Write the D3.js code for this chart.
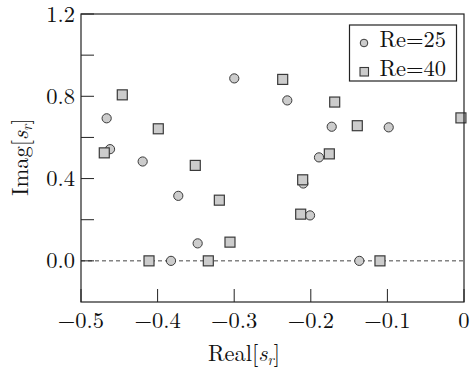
<!DOCTYPE html>
<html>
<head>
<meta charset="utf-8">
<script src="https://cdn.jsdelivr.net/npm/d3@7"></script>
<style>
  html, body { margin: 0; padding: 0; background: #fff; }
  svg { display: block; }
</style>
</head>
<body>
<svg id="chart" width="471" height="373"></svg>
<script>
// Data: Re = 25 (circles)
const re25Real = [-0.4665, -0.4621, -0.4195, -0.373, -0.3477, -0.3825, -0.2999, -0.2307, -0.2098, -0.201, -0.1893, -0.1727, -0.1367, -0.0983];
const re25Imag = [0.693, 0.543, 0.483, 0.316, 0.085, 0.0, 0.887, 0.780, 0.376, 0.221, 0.503, 0.652, 0.0, 0.649];
// Data: Re = 40 (squares)
const re40Real = [-0.4461, -0.3991, -0.4696, -0.3508, -0.3194, -0.3055, -0.4112, -0.3338, -0.2367, -0.1688, -0.1393, -0.2106, -0.2132, -0.1758, -0.1097, -0.004];
const re40Imag = [0.807, 0.642, 0.525, 0.464, 0.295, 0.091, 0.0, 0.0, 0.882, 0.772, 0.657, 0.394, 0.227, 0.520, 0.0, 0.695];

const xTicks = [-0.5, -0.4, -0.3, -0.2, -0.1, 0];
const yTicks = [0.0, 0.2, 0.4, 0.6, 0.8, 1.0, 1.2];
const yTickLabels = [0.0, 0.4, 0.8, 1.2];
const seriesNames = ["Re=25", "Re=40"];

const W = 471, H = 373;
const margin = {left: 81, right: 7, top: 14, bottom: 71};
const FONT = "'Latin Modern Roman', 'DejaVu Serif', serif";
const FS = 22.5;
const svg = d3.select("#chart");

const x = d3.scaleLinear().domain([-0.5, 0]).range([margin.left, W - margin.right]);
const y = d3.scaleLinear().domain([-0.2, 1.2]).range([H - margin.bottom, margin.top]);

const fill = "#cccccc", stroke = "#3a3a3a";

// dashed zero line
svg.append("line")
  .attr("x1", x(-0.5)).attr("x2", x(0))
  .attr("y1", y(0)).attr("y2", y(0))
  .attr("stroke", "#444").attr("stroke-width", 1)
  .attr("stroke-dasharray", "4,3");

// ticks (inward)
const tickLen = 13;
svg.append("g").selectAll("line").data(yTicks).join("line")
  .attr("x1", x(-0.5)).attr("x2", x(-0.5) + tickLen)
  .attr("y1", d => y(d)).attr("y2", d => y(d))
  .attr("stroke", "#222").attr("stroke-width", 1);
svg.append("g").selectAll("line").data(xTicks).join("line")
  .attr("x1", d => x(d)).attr("x2", d => x(d))
  .attr("y1", y(-0.2)).attr("y2", y(-0.2) - tickLen)
  .attr("stroke", "#222").attr("stroke-width", 1);

// tick labels
const fmtY = d3.format(".1f");
svg.append("g").selectAll("text").data(yTickLabels).join("text")
  .attr("x", x(-0.5) - 6).attr("y", d => y(d) + 7.5)
  .attr("text-anchor", "end")
  .attr("font-family", FONT).attr("font-size", FS).attr("fill", "#111")
  .text(d => fmtY(d));
const fmtX = d => d === 0 ? "0" : d3.format(".1f")(d);
svg.append("g").selectAll("text").data(xTicks).join("text")
  .attr("x", d => x(d)).attr("y", 327.5)
  .attr("text-anchor", "middle")
  .attr("font-family", FONT).attr("font-size", FS).attr("fill", "#111")
  .text(d => fmtX(d));

// axis labels
const xl = svg.append("text")
  .attr("x", 244).attr("y", 361)
  .attr("text-anchor", "middle").attr("font-family", FONT).attr("font-size", FS).attr("fill", "#111");
xl.append("tspan").text("Real[");
xl.append("tspan").attr("font-style", "italic").text("s");
xl.append("tspan").attr("font-style", "italic").attr("font-size", 15).attr("dy", 4).text("r");
xl.append("tspan").attr("dy", -4).text("]");

const yl = svg.append("text")
  .attr("transform", `translate(28, ${157}) rotate(-90)`)
  .attr("text-anchor", "middle").attr("font-family", FONT).attr("font-size", FS).attr("fill", "#111");
yl.append("tspan").text("Imag[");
yl.append("tspan").attr("font-style", "italic").text("s");
yl.append("tspan").attr("font-style", "italic").attr("font-size", 15).attr("dy", 4).text("r");
yl.append("tspan").attr("dy", -4).text("]");

// data
const plot = svg.append("g");
const c25 = re25Real.map((v, i) => ({re: v, im: re25Imag[i]}));
const c40 = re40Real.map((v, i) => ({re: v, im: re40Imag[i]}));

plot.append("g").selectAll("circle").data(c25).join("circle")
  .attr("cx", d => x(d.re)).attr("cy", d => y(d.im)).attr("r", 4.6)
  .attr("fill", fill).attr("stroke", stroke).attr("stroke-width", 1);

const sq = 10;
plot.append("g").selectAll("rect").data(c40).join("rect")
  .attr("x", d => x(d.re) - sq / 2).attr("y", d => y(d.im) - sq / 2)
  .attr("width", sq).attr("height", sq)
  .attr("fill", fill).attr("stroke", stroke).attr("stroke-width", 1.2);

// frame
svg.append("rect")
  .attr("x", x(-0.5)).attr("y", y(1.2))
  .attr("width", x(0) - x(-0.5)).attr("height", y(-0.2) - y(1.2))
  .attr("fill", "none").attr("stroke", "#222").attr("stroke-width", 1.2);

// legend
const lg = svg.append("g");
lg.append("rect").attr("x", 349.5).attr("y", 25).attr("width", 107).attr("height", 56)
  .attr("fill", "#fff").attr("stroke", "#222").attr("stroke-width", 1.2);
lg.append("circle").attr("cx", 364).attr("cy", 43).attr("r", 3.8)
  .attr("fill", fill).attr("stroke", stroke).attr("stroke-width", 1);
lg.append("rect").attr("x", 360).attr("y", 67.5).attr("width", 8.5).attr("height", 8.5)
  .attr("fill", fill).attr("stroke", stroke).attr("stroke-width", 1.1);
lg.selectAll("text").data(seriesNames).join("text")
  .attr("x", 379.5).attr("y", (d, i) => 46.5 + i * 29)
  .attr("font-family", FONT).attr("font-size", FS).attr("fill", "#111")
  .text(d => d);
</script>
</body>
</html>
